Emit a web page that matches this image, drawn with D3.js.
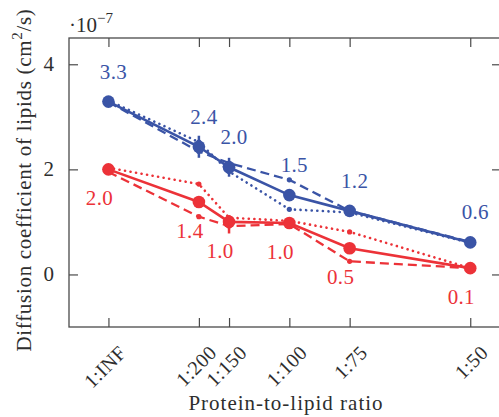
<!DOCTYPE html>
<html>
<head>
<meta charset="utf-8">
<script src="https://cdn.jsdelivr.net/npm/d3@7"></script>
<style>
  html, body { margin: 0; padding: 0; background: #fff; }
  svg text { font-family: "Liberation Serif", "DejaVu Serif", serif; }
</style>
</head>
<body>
<svg id="chart" width="499" height="417"></svg>
<script>
// =====================
// Data
// =====================
const ratioLabels = ["1:INF", "1:200", "1:150", "1:100", "1:75", "1:50"];
const ratioValues = [0, 1 / 200, 1 / 150, 1 / 100, 1 / 75, 1 / 50];   // protein / lipid

const blueSolid  = [3.29, 2.43, 2.04, 1.51, 1.21, 0.61];
const blueDashed = [3.28, 2.34, 2.12, 1.80, 1.21, 0.62];
const blueDotted = [3.31, 2.52, 1.96, 1.24, 1.18, 0.60];
const redSolid   = [2.00, 1.38, 1.00, 0.98, 0.50, 0.12];
const redDashed  = [1.95, 1.10, 0.92, 0.96, 0.25, 0.12];
const redDotted  = [2.03, 1.72, 1.08, 1.02, 0.81, 0.12];

const blueErr = [0, 0.12, 0.10, 0, 0, 0];   // half-height of error bars
const redErr  = [0, 0, 0.14, 0, 0, 0];

const blueLabels = ["3.3", "2.4", "2.0", "1.5", "1.2", "0.6"];
const redLabels  = ["2.0", "1.4", "1.0", "1.0", "0.5", "0.1"];

const yTicks = [0, 2, 4];

// =====================
// Layout
// =====================
const mLeft = 69, mRight = 501, mTop = 38, mBottom = 327;
const blue = "#3a54a6", red = "#ec3238", axisColor = "#4a4a4a", textColor = "#2e2e2e";

const svg = d3.select("#chart");

const x = d3.scaleLinear([-0.00218, 0.0217], [mLeft, mRight]);
const y = d3.scaleLinear([-1, 4.5], [mBottom, mTop]);

// Frame
svg.append("rect")
  .attr("x", mLeft).attr("y", mTop)
  .attr("width", mRight - mLeft).attr("height", mBottom - mTop)
  .attr("fill", "none").attr("stroke", axisColor).attr("stroke-width", 1.3);

// Axes with inward ticks
const gx = svg.append("g").attr("transform", `translate(0,${mBottom})`)
  .call(d3.axisTop(x).tickValues(ratioValues).tickSize(9).tickFormat(""));
const gxTop = svg.append("g").attr("transform", `translate(0,${mTop})`)
  .call(d3.axisBottom(x).tickValues(ratioValues).tickSize(9).tickFormat(""));
const gy = svg.append("g").attr("transform", `translate(${mLeft},0)`)
  .call(d3.axisRight(y).tickValues(yTicks).tickSize(9).tickFormat(""));
const gyR = svg.append("g").attr("transform", `translate(${mRight},0)`)
  .call(d3.axisLeft(y).tickValues(yTicks).tickSize(9).tickFormat(""));
[gx, gxTop, gy, gyR].forEach(g => {
  g.select(".domain").remove();
  g.selectAll(".tick line").attr("stroke", axisColor).attr("stroke-width", 1.2);
});

// Y tick labels
svg.selectAll(".ylab").data(yTicks).enter().append("text")
  .attr("x", mLeft - 15).attr("y", d => y(d) + 7)
  .attr("text-anchor", "end").attr("font-size", 21).attr("fill", textColor)
  .text(d => d);

// X tick labels (rotated)
svg.selectAll(".xlab").data(ratioValues).enter().append("text")
  .attr("transform", d => `translate(${x(d) + 19},${mBottom + 27}) rotate(-45)`)
  .attr("text-anchor", "end").attr("font-size", 20).attr("letter-spacing", 0.4)
  .attr("fill", textColor)
  .text((d, i) => ratioLabels[i]);

// Exponent
const ex = svg.append("text").attr("x", mLeft).attr("y", 32)
  .attr("font-size", 21).attr("fill", textColor);
ex.append("tspan").text("\u00b710");
ex.append("tspan").attr("dy", -9).attr("font-size", 15).text("\u22127");

// Axis titles
svg.append("text").attr("x", 286).attr("y", 410)
  .attr("text-anchor", "middle").attr("font-size", 21).attr("letter-spacing", 1.0)
  .attr("fill", textColor)
  .text("Protein-to-lipid ratio");

const yt = svg.append("text")
  .attr("transform", "translate(31,180) rotate(-90)")
  .attr("text-anchor", "middle").attr("font-size", 21).attr("letter-spacing", 0.7)
  .attr("fill", textColor);
yt.append("tspan").text("Diffusion coefficient of lipids (cm");
yt.append("tspan").attr("dy", -9).attr("font-size", 15).text("2");
yt.append("tspan").attr("dy", 9).text("/s)");

// =====================
// Series
// =====================
const line = d3.line().x((d, i) => x(ratioValues[i])).y(d => y(d));

function drawSeries(vals, color, style, err) {
  const path = svg.append("path").datum(vals)
    .attr("d", line).attr("fill", "none").attr("stroke", color)
    .attr("stroke-linecap", style === "dotted" ? "round" : "butt");
  if (style === "solid") path.attr("stroke-width", 2.6);
  if (style === "dashed") path.attr("stroke-width", 2.3).attr("stroke-dasharray", "9,5");
  if (style === "dotted") path.attr("stroke-width", 2.6).attr("stroke-dasharray", "0.1,5.5");

  const pts = vals.map((v, i) => ({ x: ratioValues[i], v: v, e: err ? err[i] : 0 }));

  svg.selectAll(null).data(pts.filter(p => p.e > 0)).enter().append("line")
    .attr("x1", p => x(p.x)).attr("x2", p => x(p.x))
    .attr("y1", p => y(p.v - p.e)).attr("y2", p => y(p.v + p.e))
    .attr("stroke", color).attr("stroke-width", 2.5);

  svg.selectAll(null).data(pts).enter().append("circle")
    .attr("cx", p => x(p.x)).attr("cy", p => y(p.v))
    .attr("r", style === "solid" ? 6.3 : 2.6)
    .attr("fill", color);
}

drawSeries(blueDotted, blue, "dotted", blueErr);
drawSeries(blueDashed, blue, "dashed", blueErr);
drawSeries(blueSolid, blue, "solid");
drawSeries(redDotted, red, "dotted");
drawSeries(redDashed, red, "dashed", redErr);
drawSeries(redSolid, red, "solid");

// Value labels
svg.selectAll(".blab").data(blueSolid).enter().append("text")
  .attr("x", (d, i) => x(ratioValues[i]) + 5).attr("y", d => y(d) - 23)
  .attr("text-anchor", "middle").attr("font-size", 21).attr("letter-spacing", 0.3)
  .attr("fill", blue)
  .text((d, i) => blueLabels[i]);

svg.selectAll(".rlab").data(redSolid).enter().append("text")
  .attr("x", (d, i) => x(ratioValues[i]) - 9).attr("y", d => y(d) + 36)
  .attr("text-anchor", "middle").attr("font-size", 21).attr("letter-spacing", 0.3)
  .attr("fill", red)
  .text((d, i) => redLabels[i]);
</script>
</body>
</html>
